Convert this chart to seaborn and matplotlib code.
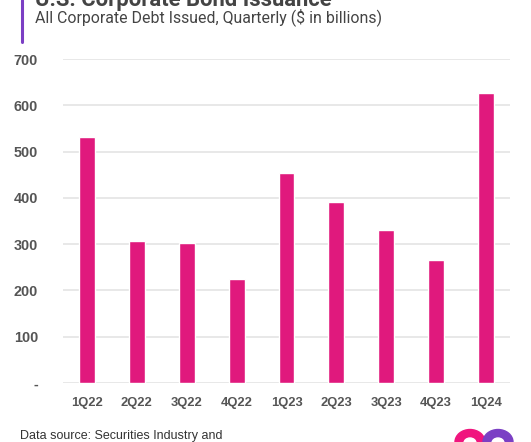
import numpy as np
import pandas as pd
import matplotlib.pyplot as plt
import seaborn as sns
from matplotlib.patches import Wedge, Circle
from matplotlib.lines import Line2D

# data
quarters = ["1Q22", "2Q22", "3Q22", "4Q22", "1Q23", "2Q23", "3Q23", "4Q23", "1Q24"]
issued = [531, 307, 302, 225, 454, 391, 330, 266, 627]
ytick_vals = [0, 100, 200, 300, 400, 500, 600, 700]
ytick_labels = ["-", "100", "200", "300", "400", "500", "600", "700"]

df = pd.DataFrame({"quarter": quarters, "issued": issued})

sns.set_theme(style="white")
plt.rcParams["font.family"] = ["Liberation Sans", "DejaVu Sans"]

fig = plt.figure(figsize=(5.31, 4.42), dpi=100)
ax = fig.add_axes([63 / 531, 1 - 383 / 442, (510 - 63) / 531, (383 - 59) / 442])

sns.barplot(data=df, x="quarter", y="issued", color="#E0197D", width=0.32,
            saturation=1, ax=ax, zorder=3)

ax.set_ylim(0, 700)
ax.set_xlim(-0.48, 8.48)
ax.set_yticks(ytick_vals)
ax.set_yticklabels(ytick_labels)
ax.yaxis.grid(True, color="#e4e4e4", linewidth=1.2, zorder=0)
ax.set_axisbelow(True)
for s in ax.spines.values():
    s.set_visible(False)
ax.set_xlabel("")
ax.set_ylabel("")
ax.tick_params(axis="y", length=0, pad=18, labelsize=10.4, labelcolor="#555555")
ax.tick_params(axis="x", length=0, pad=10, labelsize=9.4, labelcolor="#555555")
for lab in ax.get_xticklabels() + ax.get_yticklabels():
    lab.set_fontweight("bold")

# header
fig.add_artist(Line2D([22 / 531, 22 / 531], [1, 1 - 42 / 442], color="#7B3FC4", lw=2.2))
fig.text(35 / 531, 1 - 6 / 442, "U.S. Corporate Bond Issuance", fontsize=15.8, fontweight="bold",
         color="#444444", family=["Roboto", "DejaVu Sans"], va="baseline")
fig.text(35 / 531, 1 - 22 / 442, "All Corporate Debt Issued, Quarterly ($ in billions)",
         fontsize=11.4, color="#444444", family=["Roboto", "DejaVu Sans"], va="baseline")

# footer
fig.text(20 / 531, 1 - 439 / 442, "Data source: Securities Industry and", fontsize=9,
         color="#333333", va="baseline")

# logo
h = 442
fig.add_artist(Wedge((470 / 531, 1 - 442 / h), 15 / 531, 0, 180, color="#F0157E",
                     transform=fig.transFigure))
fig.add_artist(Wedge((498 / 531, 1 - 442 / h), 15 / 531, 0, 180, color="#7B3FC4",
                     transform=fig.transFigure))
fig.add_artist(Circle((470 / 531, 1 - 443 / h), 6 / 531, color="white",
                      transform=fig.transFigure))
fig.add_artist(Circle((498 / 531, 1 - 443 / h), 6 / 531, color="white",
                      transform=fig.transFigure))

fig.savefig("out.png", dpi=100)
